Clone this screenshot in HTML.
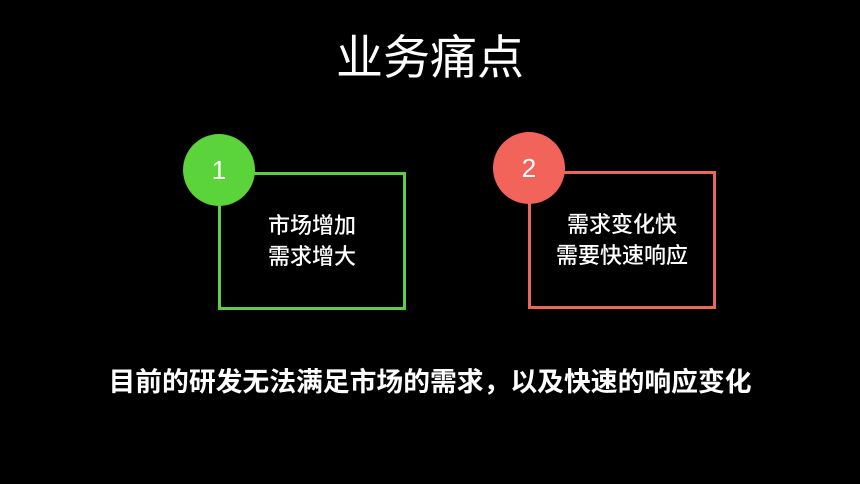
<!DOCTYPE html>
<html><head><meta charset="utf-8"><style>
body{margin:0;width:860px;height:484px;background:#000;position:relative;overflow:hidden;font-family:"Liberation Sans","Noto Sans CJK SC",sans-serif;color:#fff}
.a{position:absolute}
.t{left:0;width:860px;text-align:center}
.box{position:absolute;border:3px solid}
.c{position:absolute;border-radius:50%;width:72px;height:72px;text-align:center;line-height:72px;font-size:26px;color:#fff}
.lbl{position:absolute;text-align:center;font-size:22px;line-height:31px;font-weight:500}
</style></head><body>
<div class="a t" style="top:28px;font-size:47px;line-height:60px">业务痛点</div>
<div class="box" style="left:218px;top:172px;width:182px;height:132px;border-color:#5fce44"></div>
<div class="c" style="left:183px;top:134px;background:#5bd33a">1</div>
<div class="lbl" style="left:220px;top:210px;width:184px">市场增加<br>需求增大</div>
<div class="box" style="left:528px;top:171px;width:182px;height:132px;border-color:#e8675a"></div>
<div class="c" style="left:493px;top:132px;background:#f2645a">2</div>
<div class="lbl" style="left:530px;top:209px;width:184px">需求变化快<br>需要快速响应</div>
<div class="a t" style="top:364px;font-size:26.8px;line-height:36px;font-weight:bold">目前的研发无法满足市场的需求，以及快速的响应变化</div>
</body></html>
